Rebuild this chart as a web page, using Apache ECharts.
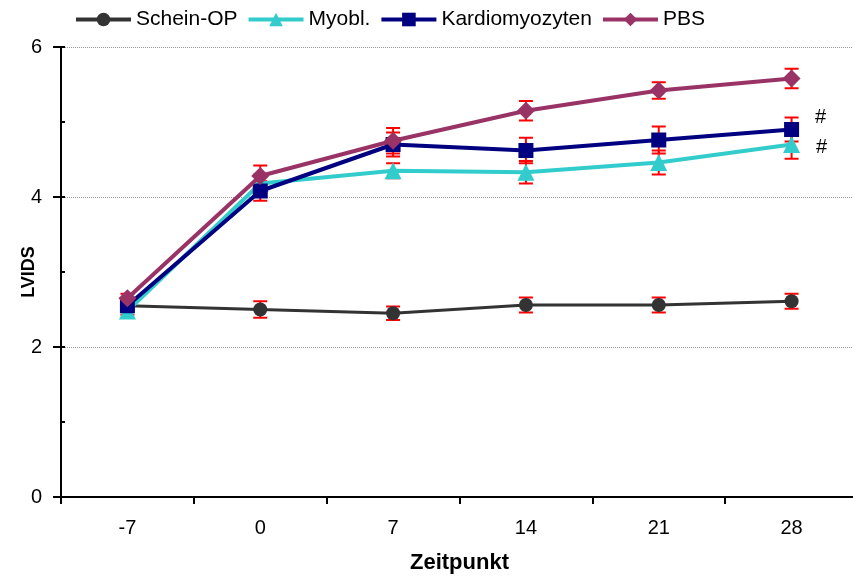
<!DOCTYPE html>
<html>
<head>
<meta charset="utf-8">
<script src="https://cdn.jsdelivr.net/npm/echarts@6/dist/echarts.min.js"></script>
<style>
  html, body { margin: 0; padding: 0; background: #fff; }
  #chart { width: 853px; height: 579px; }
</style>
</head>
<body>
<div id="chart"></div>
<script>
// Zeitpunkt (Tage)
const categories = ['-7', '0', '7', '14', '21', '28']

// LVIDS Mittelwerte
const scheinOP = [2.55, 2.50, 2.45, 2.56, 2.56, 2.61]
const myobl = [2.48, 4.18, 4.35, 4.33, 4.46, 4.70]
const kardio = [2.55, 4.08, 4.70, 4.62, 4.76, 4.90]
const pbs = [2.65, 4.28, 4.75, 5.15, 5.42, 5.58]

// Fehlerbalken (+/-)
const scheinOPErr = [0.06, 0.11, 0.09, 0.10, 0.10, 0.10]
const myoblErr = [0.05, 0.12, 0.10, 0.15, 0.16, 0.19]
const kardioErr = [0.06, 0.13, 0.16, 0.17, 0.18, 0.16]
const pbsErr = [0.06, 0.14, 0.17, 0.13, 0.11, 0.13]

const fontFam = 'Arial, "Liberation Sans", sans-serif'

function errData(vals, errs) {
  return vals.map((v, i) => [i, v - errs[i], v + errs[i]])
}

function renderErr(params, api) {
  const lo = api.coord([api.value(0), api.value(1)])
  const hi = api.coord([api.value(0), api.value(2)])
  const w = 7
  const style = { stroke: '#ff0000', lineWidth: 2 }
  return {
    type: 'group',
    children: [
      { type: 'line', shape: { x1: hi[0], y1: hi[1], x2: lo[0], y2: lo[1] }, style: style },
      { type: 'line', shape: { x1: hi[0] - w, y1: hi[1], x2: hi[0] + w, y2: hi[1] }, style: style },
      { type: 'line', shape: { x1: lo[0] - w, y1: lo[1], x2: lo[0] + w, y2: lo[1] }, style: style }
    ]
  }
}

function errSeries(vals, errs) {
  return {
    type: 'custom',
    renderItem: renderErr,
    data: errData(vals, errs),
    z: 1,
    silent: true,
    clip: false,
    encode: { x: 0, y: [1, 2] }
  }
}

function hashLabel(vals, offsetY) {
  return vals.map((v, i) => {
    if (i !== vals.length - 1) return v
    return {
      value: v,
      label: {
        show: true, formatter: '#', position: 'right', distance: 16,
        offset: [0, offsetY], fontSize: 20, color: '#000', fontFamily: fontFam
      }
    }
  })
}

const chart = echarts.init(document.getElementById('chart'))

chart.setOption({
  animation: false,
  backgroundColor: '#fff',
  textStyle: { fontFamily: fontFam },
  legend: {
    top: 4,
    left: 69,
    itemWidth: 55,
    itemHeight: 17,
    itemGap: 9,
    textStyle: { fontSize: 21, color: '#000', fontFamily: fontFam },
    data: [
      { name: 'Schein-OP', lineStyle: { width: 4 } },
      { name: 'Myobl.', lineStyle: { width: 4 } },
      { name: 'Kardiomyozyten', lineStyle: { width: 4 } },
      { name: 'PBS', lineStyle: { width: 4 } }
    ]
  },
  grid: { left: 61, width: 797, top: 47, bottom: 82, outerBoundsMode: 'none', containLabel: false },
  xAxis: {
    type: 'category',
    data: categories,
    boundaryGap: true,
    name: 'Zeitpunkt',
    nameLocation: 'middle',
    nameGap: 55,
    nameMoveOverlap: false,
    nameTextStyle: { fontSize: 22, fontWeight: 'bold', color: '#000', fontFamily: fontFam },
    axisLine: { lineStyle: { color: '#000', width: 2 } },
    axisTick: { show: true, length: 7, lineStyle: { color: '#000', width: 2 } },
    axisLabel: { fontSize: 20, color: '#000', margin: 21, fontFamily: fontFam },
    splitLine: { show: false }
  },
  yAxis: [
    {
      type: 'value',
      min: 0,
      max: 6,
      interval: 2,
      name: 'LVIDS',
      nameLocation: 'middle',
      nameGap: 23,
      nameMoveOverlap: false,
      nameTextStyle: { fontSize: 18, fontWeight: 'bold', color: '#000', fontFamily: fontFam },
      axisLine: { show: true, lineStyle: { color: '#000', width: 2 } },
      axisTick: { show: true, length: 8, lineStyle: { color: '#000', width: 2 } },
      axisLabel: { fontSize: 20, color: '#000', margin: 19, fontFamily: fontFam },
      splitLine: { show: true, lineStyle: { color: '#999', type: 'dotted', width: 1 } }
    },
    {
      // innere Hilfsstriche bei jeder ganzen Zahl
      type: 'value',
      min: 0,
      max: 6,
      interval: 1,
      position: 'left',
      axisLine: { show: false },
      axisTick: { show: true, inside: true, length: 4, lineStyle: { color: '#000', width: 2 } },
      axisLabel: { show: false },
      splitLine: { show: false }
    }
  ],
  series: [
    errSeries(scheinOP, scheinOPErr),
    errSeries(myobl, myoblErr),
    errSeries(kardio, kardioErr),
    errSeries(pbs, pbsErr),
    {
      name: 'Schein-OP',
      type: 'line',
      data: scheinOP,
      symbol: 'circle',
      symbolSize: 14,
      z: 3,
      color: '#333333',
      lineStyle: { width: 3, color: '#333333' }
    },
    {
      name: 'Myobl.',
      type: 'line',
      data: hashLabel(myobl, 3),
      symbol: 'triangle',
      symbolSize: 17,
      z: 4,
      color: '#33cccc',
      lineStyle: { width: 4, color: '#33cccc' }
    },
    {
      name: 'Kardiomyozyten',
      type: 'line',
      data: hashLabel(kardio, -12),
      symbol: 'rect',
      symbolSize: 15,
      z: 5,
      color: '#000080',
      lineStyle: { width: 4, color: '#000080' }
    },
    {
      name: 'PBS',
      type: 'line',
      data: pbs,
      symbol: 'diamond',
      symbolSize: 18,
      z: 6,
      color: '#993366',
      lineStyle: { width: 4, color: '#993366' }
    }
  ]
})
</script>
</body>
</html>
